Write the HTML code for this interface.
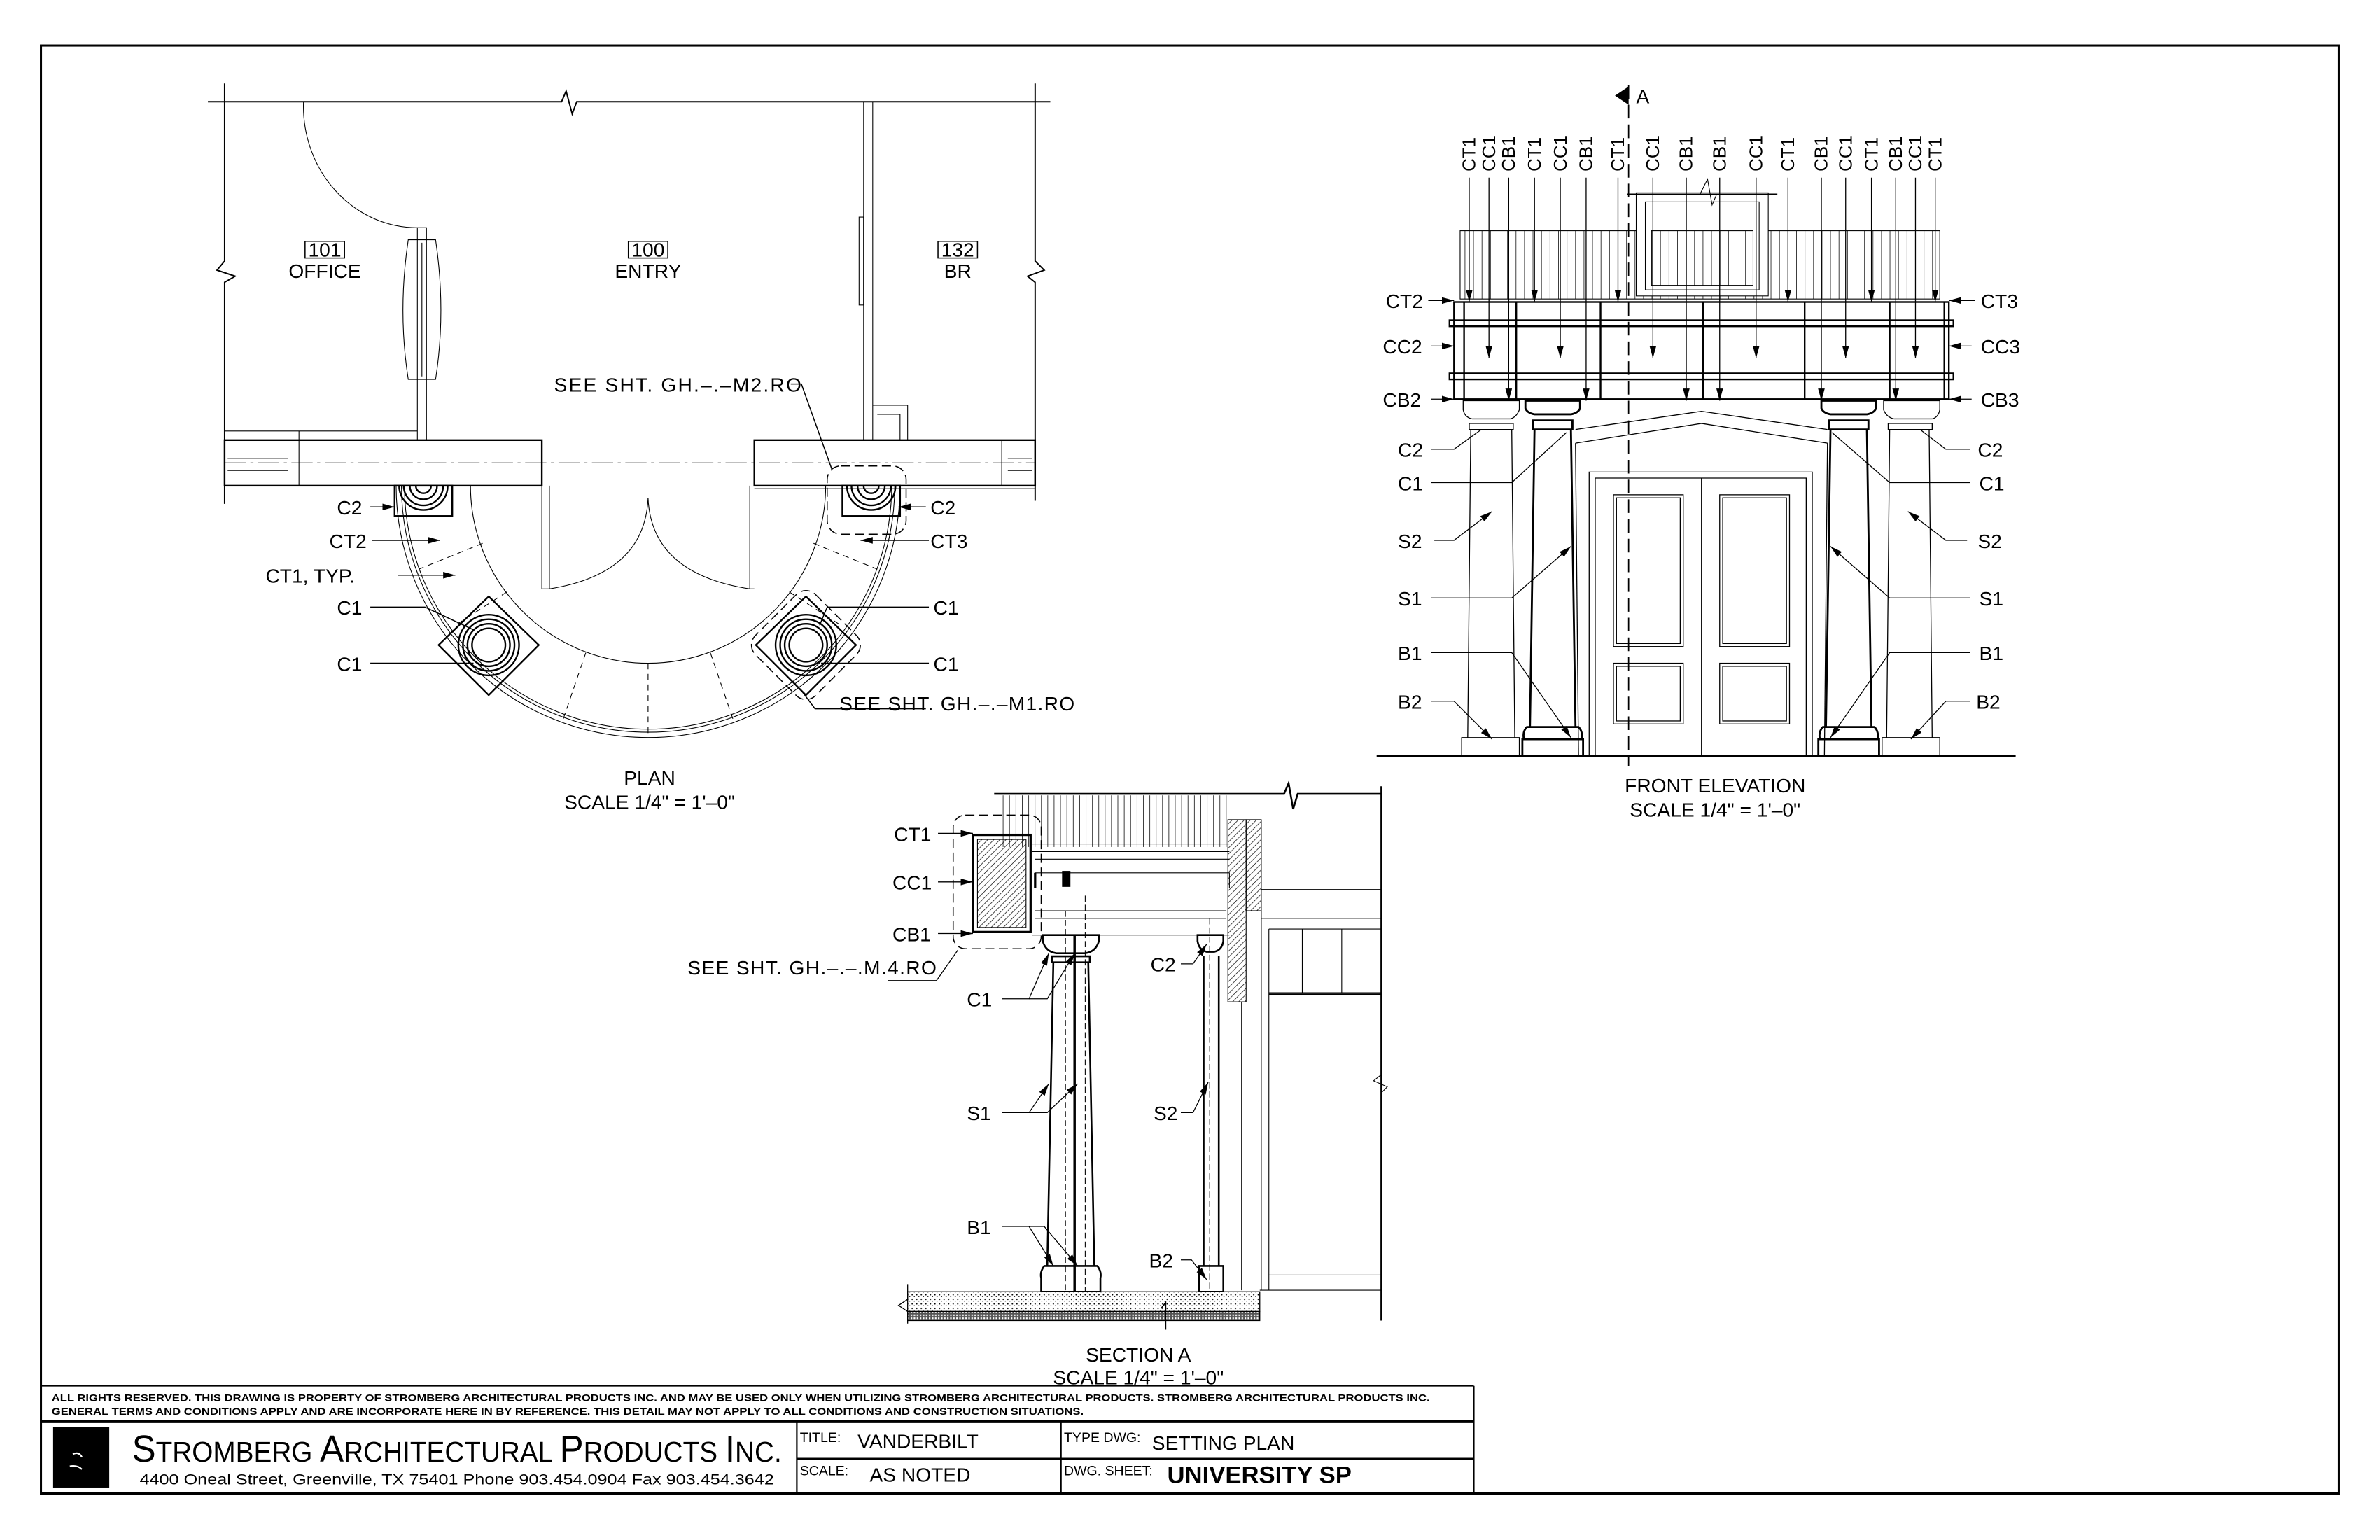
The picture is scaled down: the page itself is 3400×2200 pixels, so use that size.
<!DOCTYPE html>
<html><head><meta charset="utf-8"><style>
html,body{margin:0;padding:0;background:#fff}
svg{display:block}
text{font-family:"Liberation Sans",sans-serif;fill:#000}
</style></head><body>
<svg width="3400" height="2200" viewBox="0 0 1568 1014.6" preserveAspectRatio="none" xmlns="http://www.w3.org/2000/svg">
<defs>
<marker id="ar" markerWidth="8" markerHeight="6" refX="8" refY="3" orient="auto" markerUnits="userSpaceOnUse"><path d="M0,0.8 L8,3 L0,5.2z" fill="#000"/></marker>
<pattern id="bal" width="5.6" height="50" patternUnits="userSpaceOnUse"><line x1="2" y1="0" x2="2" y2="50" stroke="#000" stroke-width="0.35"/></pattern>
<pattern id="bal2" width="4.2" height="50" patternUnits="userSpaceOnUse"><line x1="1.5" y1="0" x2="1.5" y2="50" stroke="#000" stroke-width="0.35"/></pattern>
<pattern id="hat" width="4" height="4" patternUnits="userSpaceOnUse"><path d="M0,4 L4,0" stroke="#000" stroke-width="0.35"/></pattern>
<pattern id="dots" width="3" height="3" patternUnits="userSpaceOnUse"><rect width="3" height="3" fill="#fff"/><circle cx="1" cy="1" r="0.45" fill="#000"/><circle cx="2.4" cy="2.2" r="0.35" fill="#000"/></pattern>
<pattern id="dark" width="2" height="2" patternUnits="userSpaceOnUse"><rect width="2" height="2" fill="#555"/><rect width="1" height="1" fill="#fff"/></pattern>
</defs>
<g fill="none" stroke="#000">
<rect x="27" y="30" width="1514" height="954" stroke-width="1.4"/>
<line x1="27" y1="913" x2="971" y2="913" stroke-width="0.8"/>
<line x1="971" y1="913" x2="971" y2="984" stroke-width="1"/>
<line x1="27" y1="936.5" x2="971" y2="936.5" stroke-width="2"/>
<line x1="525" y1="937" x2="525" y2="984" stroke-width="1"/>
<line x1="699" y1="937" x2="699" y2="984" stroke-width="1"/>
<line x1="525" y1="961" x2="971" y2="961" stroke-width="1.2"/>
<line x1="27" y1="984" x2="1541" y2="984" stroke-width="2"/>

<!-- PLAN -->
<g stroke-width="0.9">
<path d="M137,67 H370 L373,60 L377,75 L380,67 H692"/>
<path d="M148,55 V172 L143,178 L155,182 L148,186 V332"/>
<path d="M682,55 V172 L688,178 L677,182 L682,186 V330"/>
</g>
<rect x="148" y="290" width="209" height="30" stroke-width="1.1"/>
<rect x="497" y="290" width="185" height="30" stroke-width="1.1"/>
<g stroke-width="0.5">
<path d="M200,67 A75,80 0 0 0 275,150"/>
<rect x="275" y="150" width="6" height="140"/>
<path d="M269,158 Q262,205 269,250 H287 Q294,205 287,158 Z"/>
<line x1="278" y1="160" x2="278" y2="248"/>
<line x1="569" y1="67" x2="569" y2="290"/><line x1="575" y1="67" x2="575" y2="290"/>
<rect x="566" y="143" width="3" height="58"/>
<path d="M575,267 H598 V290"/><path d="M578,273 H593 V290"/>
<line x1="148" y1="284" x2="275" y2="284"/>
<line x1="197" y1="284" x2="197" y2="320"/>
<line x1="660" y1="290" x2="660" y2="320"/>
<path d="M150,302 H190 M150,310 H190 M664,302 H680 M664,310 H680"/>
<line x1="148" y1="305" x2="682" y2="305" stroke-dasharray="14 3 2 3"/>
<path d="M357,320 V388 H362 V320"/>
<path d="M494,320 V388 H497"/>
<path d="M427,328 Q425,378 362,388"/>
<path d="M427,328 Q429,378 494,388"/>
<path d="M497,322 H682"/>
<path d="M261,320 A166,166 0 0 0 593,320"/>
<path d="M264.5,320 A162.5,162.5 0 0 0 589.5,320"/>
<path d="M266.5,320 A160.5,160.5 0 0 0 587.5,320"/>
<path d="M310,320 A117,117 0 0 0 544,320"/>
<g stroke-dasharray="4 3">
<path d="M427,437 V483"/><path d="M386,430 L371,474"/><path d="M468,430 L483,474"/>
<path d="M318,358 L276,375"/><path d="M536,358 L578,375"/>
<path d="M334,390 L300,412"/><path d="M520,390 L554,412"/>
</g>
</g>
<g stroke-width="1.1">
<rect x="260" y="320" width="38" height="20"/>
<path d="M266,320 A13,13 0 0 0 292,320 M270,320 A9,9 0 0 0 288,320 M263,320 A16,16 0 0 0 295,320 M274,320 A5,5 0 0 0 284,320"/>
<rect x="555" y="320" width="38" height="20"/>
<path d="M561,320 A13,13 0 0 0 587,320 M565,320 A9,9 0 0 0 583,320 M558,320 A16,16 0 0 0 590,320 M569,320 A5,5 0 0 0 579,320"/>
<path d="M322,393 L355,425 L322,458 L289,425 Z"/>
<circle cx="322" cy="425" r="11"/><circle cx="322" cy="425" r="14"/><circle cx="322" cy="425" r="17"/><circle cx="322" cy="425" r="20"/>
<path d="M531,393 L564,425 L531,458 L498,425 Z"/>
<circle cx="531" cy="425" r="11"/><circle cx="531" cy="425" r="14"/><circle cx="531" cy="425" r="17"/><circle cx="531" cy="425" r="20"/>
</g>
<g stroke-width="0.7" stroke-dasharray="6 3">
<rect x="545" y="307" width="52" height="45" rx="9"/>
<rect x="503" y="397" width="56" height="56" rx="9" transform="rotate(45 531 425)"/>
</g>
<g stroke-width="0.7">
<line x1="244" y1="334" x2="260" y2="334" marker-end="url(#ar)"/>
<line x1="245" y1="356" x2="290" y2="356" marker-end="url(#ar)"/>
<line x1="262" y1="379" x2="300" y2="379" marker-end="url(#ar)"/>
<path d="M244,400 H280 L312,415"/>
<path d="M244,437 H312"/>
<line x1="610" y1="334" x2="592" y2="334" marker-end="url(#ar)"/>
<line x1="612" y1="356" x2="567" y2="356" marker-end="url(#ar)"/>
<path d="M612,400 H545 L540,412"/>
<path d="M612,437 H541"/>
<path d="M521,253 H528 L548,309"/>
<path d="M528,455 L537,467 H610"/>
</g>

<!-- ELEVATION -->
<line x1="907" y1="498" x2="1328" y2="498" stroke-width="1.1"/>
<line x1="1073" y1="56" x2="1073" y2="505" stroke-width="0.8" stroke-dasharray="9 4"/>
<path d="M1073,57 L1064,63 L1073,69 Z" fill="#000" stroke="none"/>
<g stroke-width="0.5">
<rect x="962" y="152" width="316" height="45" fill="url(#bal)"/>
<rect x="1078" y="127" width="87" height="68" fill="#fff"/>
<rect x="1084" y="133" width="75" height="58"/>
<rect x="1088" y="152" width="67" height="36" fill="url(#bal)"/>
<line x1="1072" y1="128" x2="1171" y2="128" stroke-width="1"/>
<path d="M1120,128 L1125,118 L1128,135 L1131,128"/>
</g>
<g stroke-width="1.1">
<rect x="958" y="199" width="326" height="64"/>
<rect x="955" y="211" width="332" height="4"/>
<rect x="955" y="246" width="332" height="4"/>
<path d="M964.6,199 V263 M999,199 V263 M1054.5,199 V263 M1122,199 V263 M1189,199 V263 M1245,199 V263 M1281,199 V263"/>
</g>
<g stroke-width="0.6">
<path d="M964,264 H1001 V270 Q999,275 995,276 H970 Q965,275 964,270Z"/>
<path d="M968,279 H997 V283 H968Z"/>
<path d="M969,283 L967,486 M996,283 L998,486"/>
<path d="M963,486 H1001 V498 H963Z"/>
<path d="M1241,264 H1278 V270 Q1277,275 1273,276 H1248 Q1243,275 1241,270Z"/>
<path d="M1244,279 H1273 V283 H1244Z"/>
<path d="M1245,283 L1243,486 M1271,283 L1273,486"/>
<path d="M1240,486 H1278 V498 H1240Z"/>
</g>
<g stroke-width="1.3">
<path d="M1005,264 H1041 V269 Q1040,272 1035,273 H1011 Q1006,272 1005,269Z"/>
<path d="M1010,277 H1036 V283 H1010Z"/>
<path d="M1011,283 L1008,479 M1035,283 L1038,479"/>
<path d="M1006,479 H1040 Q1043,482 1042,487 H1004 Q1003,482 1006,479Z"/>
<rect x="1003" y="487" width="40" height="11"/>
<path d="M1200,264 H1236 V269 Q1235,272 1230,273 H1206 Q1201,272 1200,269Z"/>
<path d="M1205,277 H1231 V283 H1205Z"/>
<path d="M1206,283 L1203,479 M1230,283 L1233,479"/>
<path d="M1201,479 H1235 Q1238,482 1237,487 H1199 Q1198,482 1201,479Z"/>
<rect x="1198" y="487" width="40" height="11"/>
</g>
<g stroke-width="0.6">
<path d="M1038,283 L1121,271 L1204,283"/>
<path d="M1038,292 L1121,279 L1204,292"/>
<line x1="1038" y1="292" x2="1040" y2="498"/><line x1="1204" y1="292" x2="1202" y2="498"/>
<path d="M1047,498 V311 H1194 V498"/>
<path d="M1051,498 V315 H1190 V498"/>
<line x1="1121" y1="315" x2="1121" y2="498"/>
<rect x="1063" y="326" width="46" height="100"/><rect x="1065" y="328" width="42" height="96"/>
<rect x="1133" y="326" width="46" height="100"/><rect x="1135" y="328" width="42" height="96"/>
<rect x="1063" y="437" width="46" height="40"/><rect x="1065" y="439" width="42" height="36"/>
<rect x="1133" y="437" width="46" height="40"/><rect x="1135" y="439" width="42" height="36"/>
</g>
<g stroke-width="0.6">
<line x1="968" y1="117" x2="968" y2="199" marker-end="url(#ar)"/>
<line x1="981" y1="117" x2="981" y2="236" marker-end="url(#ar)"/>
<line x1="994" y1="117" x2="994" y2="264" marker-end="url(#ar)"/>
<line x1="1011" y1="117" x2="1011" y2="199" marker-end="url(#ar)"/>
<line x1="1028" y1="117" x2="1028" y2="236" marker-end="url(#ar)"/>
<line x1="1045" y1="117" x2="1045" y2="264" marker-end="url(#ar)"/>
<line x1="1066" y1="117" x2="1066" y2="199" marker-end="url(#ar)"/>
<line x1="1089" y1="117" x2="1089" y2="236" marker-end="url(#ar)"/>
<line x1="1111" y1="117" x2="1111" y2="264" marker-end="url(#ar)"/>
<line x1="1133" y1="117" x2="1133" y2="264" marker-end="url(#ar)"/>
<line x1="1157" y1="117" x2="1157" y2="236" marker-end="url(#ar)"/>
<line x1="1178" y1="117" x2="1178" y2="199" marker-end="url(#ar)"/>
<line x1="1200" y1="117" x2="1200" y2="264" marker-end="url(#ar)"/>
<line x1="1216" y1="117" x2="1216" y2="236" marker-end="url(#ar)"/>
<line x1="1233" y1="117" x2="1233" y2="199" marker-end="url(#ar)"/>
<line x1="1249" y1="117" x2="1249" y2="264" marker-end="url(#ar)"/>
<line x1="1262" y1="117" x2="1262" y2="236" marker-end="url(#ar)"/>
<line x1="1275" y1="117" x2="1275" y2="199" marker-end="url(#ar)"/>
<line x1="941" y1="198" x2="958" y2="198" marker-end="url(#ar)"/>
<line x1="943" y1="228" x2="958" y2="228" marker-end="url(#ar)"/>
<line x1="943" y1="263" x2="958" y2="263" marker-end="url(#ar)"/>
<path d="M943,296 H958 L976,283"/>
<path d="M943,318 H996 L1032,285"/>
<path d="M945,356 H958 L983,337" marker-end="url(#ar)"/>
<path d="M943,394 H996 L1035,360" marker-end="url(#ar)"/>
<path d="M943,430 H996 L1035,486" marker-end="url(#ar)"/>
<path d="M943,462 H958 L983,487" marker-end="url(#ar)"/>
<line x1="1301" y1="198" x2="1284" y2="198" marker-end="url(#ar)"/>
<line x1="1299" y1="228" x2="1284" y2="228" marker-end="url(#ar)"/>
<line x1="1299" y1="263" x2="1284" y2="263" marker-end="url(#ar)"/>
<path d="M1298,296 H1282 L1265,283"/>
<path d="M1298,318 H1245 L1207,285"/>
<path d="M1296,356 H1282 L1257,337" marker-end="url(#ar)"/>
<path d="M1298,394 H1245 L1206,360" marker-end="url(#ar)"/>
<path d="M1298,430 H1245 L1206,486" marker-end="url(#ar)"/>
<path d="M1298,462 H1282 L1259,487" marker-end="url(#ar)"/>
</g>

<!-- SECTION A -->
<g stroke-width="0.5">
<rect x="660" y="524" width="150" height="34" fill="url(#bal2)" stroke="none"/>
<path d="M655,523 H846 L849,516 L852,533 L855,523 H910" stroke-width="1.2"/>
<line x1="910" y1="518" x2="910" y2="870" stroke-width="1"/>
<path d="M910,708 L905,712 L914,716 L910,720" />
<rect x="641" y="550" width="38" height="64" stroke-width="1.5"/>
<rect x="644" y="553" width="32" height="58" fill="url(#hat)"/>
<path d="M680,556 H810 M680,561 H810 M682,566 H810 M682,575 H810 V585 H682 Z M682,600 H808 M682,605 H808 M680,616 H810" />
<path d="M682,575 V585" stroke-width="1.5"/>
<rect x="700" y="574" width="5" height="10" fill="#000"/>
<rect x="809" y="540" width="12" height="120" fill="url(#hat)"/>
<rect x="821" y="540" width="10" height="60" fill="url(#hat)"/>
<path d="M831,586 H910 M831,605 H910 M836,612 V654 M836,654 H910 M836,612 H910"/>
<path d="M858,612 V654 M884,612 V654"/>
<line x1="836" y1="655" x2="910" y2="655" stroke-width="1"/>
<path d="M831,600 V850 M836,654 V850 M818,660 V850"/>
<line x1="830" y1="850" x2="910" y2="850"/><line x1="836" y1="840" x2="910" y2="840"/>
</g>
<rect x="628" y="537" width="58" height="88" rx="8" stroke-width="0.7" stroke-dasharray="6 3"/>
<g stroke-width="1.2">
<path d="M687,616 H724 V620 Q722,627 715,628 H696 Q689,627 687,620Z"/>
<path d="M693,630 H718 V634 H693Z"/>
<path d="M694,634 L690,834 M717,634 L721,834"/>
<path d="M688,834 H723 Q726,838 725,842 V851 H686 V842 Q685,838 688,834Z"/>
<path d="M789,616 H806 V620 Q805,626 800,627 H795 Q790,626 789,620Z"/>
<path d="M793,630 V834 M803,630 V834"/>
<path d="M790,834 H806 V851 H790Z"/>
<line x1="708" y1="616" x2="708" y2="851" stroke-width="1.6"/>
</g>
<g stroke-width="0.5" stroke-dasharray="4 2"><line x1="702" y1="600" x2="702" y2="851"/><line x1="715" y1="590" x2="715" y2="851"/><line x1="797" y1="605" x2="797" y2="851"/></g>
<rect x="598" y="851" width="232" height="13" fill="url(#dots)" stroke-width="0.6"/>
<rect x="598" y="864" width="232" height="6" fill="url(#dark)" stroke-width="0.6"/>
<path d="M598,846 V856 L592,860 L598,864 V872" stroke-width="0.6"/>
<path d="M765,862 L768,858 L768,876" stroke-width="0.8"/>
<g stroke-width="0.6">
<line x1="618" y1="549" x2="641" y2="549" marker-end="url(#ar)"/>
<line x1="618" y1="581" x2="641" y2="581" marker-end="url(#ar)"/>
<line x1="618" y1="615" x2="641" y2="615" marker-end="url(#ar)"/>
<path d="M585,646 H617 L631,626"/>
<path d="M660,658 H678 L691,628" marker-end="url(#ar)"/>
<path d="M678,658 H690 L708,628" marker-end="url(#ar)"/>
<path d="M660,733 H678 L691,714" marker-end="url(#ar)"/>
<path d="M678,733 H690 L710,714" marker-end="url(#ar)"/>
<path d="M660,808 H678 L694,834" marker-end="url(#ar)"/>
<path d="M678,808 H688 L710,834" marker-end="url(#ar)"/>
<path d="M778,635 H786 L795,622" marker-end="url(#ar)"/>
<path d="M778,733 H786 L796,713" marker-end="url(#ar)"/>
<path d="M778,830 H785 L795,843" marker-end="url(#ar)"/>
</g>
</g>

<!-- TEXT -->
<g font-size="13">
<rect x="201" y="159" width="26" height="11" fill="none" stroke="#000" stroke-width="0.7"/>
<text x="214" y="169" text-anchor="middle">101</text>
<text x="214" y="183" text-anchor="middle">OFFICE</text>
<rect x="414" y="159" width="26" height="11" fill="none" stroke="#000" stroke-width="0.7"/>
<text x="427" y="169" text-anchor="middle">100</text>
<text x="427" y="183" text-anchor="middle">ENTRY</text>
<rect x="618" y="159" width="26" height="11" fill="none" stroke="#000" stroke-width="0.7"/>
<text x="631" y="169" text-anchor="middle">132</text>
<text x="631" y="183" text-anchor="middle">BR</text>
<text x="365" y="258" textLength="163">SEE SHT. GH.–.–M2.RO</text>
<text x="222" y="339">C2</text>
<text x="217" y="361">CT2</text>
<text x="175" y="384">CT1, TYP.</text>
<text x="222" y="405">C1</text>
<text x="222" y="442">C1</text>
<text x="613" y="339">C2</text>
<text x="613" y="361">CT3</text>
<text x="615" y="405">C1</text>
<text x="615" y="442">C1</text>
<text x="553" y="468" textLength="155">SEE SHT. GH.–.–M1.RO</text>
<text x="428" y="517" text-anchor="middle">PLAN</text>
<text x="428" y="533" text-anchor="middle">SCALE 1/4" = 1'–0"</text>
<text x="1078" y="68">A</text>
<g font-size="12">
<text transform="translate(972,113) rotate(-90)">CT1</text>
<text transform="translate(985,113) rotate(-90)">CC1</text>
<text transform="translate(998,113) rotate(-90)">CB1</text>
<text transform="translate(1015,113) rotate(-90)">CT1</text>
<text transform="translate(1032,113) rotate(-90)">CC1</text>
<text transform="translate(1049,113) rotate(-90)">CB1</text>
<text transform="translate(1070,113) rotate(-90)">CT1</text>
<text transform="translate(1093,113) rotate(-90)">CC1</text>
<text transform="translate(1115,113) rotate(-90)">CB1</text>
<text transform="translate(1137,113) rotate(-90)">CB1</text>
<text transform="translate(1161,113) rotate(-90)">CC1</text>
<text transform="translate(1182,113) rotate(-90)">CT1</text>
<text transform="translate(1204,113) rotate(-90)">CB1</text>
<text transform="translate(1220,113) rotate(-90)">CC1</text>
<text transform="translate(1237,113) rotate(-90)">CT1</text>
<text transform="translate(1253,113) rotate(-90)">CB1</text>
<text transform="translate(1266,113) rotate(-90)">CC1</text>
<text transform="translate(1279,113) rotate(-90)">CT1</text>
</g>
<text x="913" y="203">CT2</text>
<text x="911" y="233">CC2</text>
<text x="911" y="268">CB2</text>
<text x="921" y="301">C2</text>
<text x="921" y="323">C1</text>
<text x="921" y="361">S2</text>
<text x="921" y="399">S1</text>
<text x="921" y="435">B1</text>
<text x="921" y="467">B2</text>
<text x="1305" y="203">CT3</text>
<text x="1305" y="233">CC3</text>
<text x="1305" y="268">CB3</text>
<text x="1303" y="301">C2</text>
<text x="1304" y="323">C1</text>
<text x="1303" y="361">S2</text>
<text x="1304" y="399">S1</text>
<text x="1304" y="435">B1</text>
<text x="1302" y="467">B2</text>
<text x="1130" y="522" text-anchor="middle">FRONT  ELEVATION</text>
<text x="1130" y="538" text-anchor="middle">SCALE 1/4" = 1'–0"</text>
<text x="589" y="554">CT1</text>
<text x="588" y="586">CC1</text>
<text x="588" y="620">CB1</text>
<text x="453" y="642" textLength="164">SEE SHT. GH.–.–.M.4.RO</text>
<text x="637" y="663">C1</text>
<text x="637" y="738">S1</text>
<text x="637" y="813">B1</text>
<text x="758" y="640">C2</text>
<text x="760" y="738">S2</text>
<text x="757" y="835">B2</text>
<text x="750" y="897" text-anchor="middle">SECTION  A</text>
<text x="750" y="912" text-anchor="middle">SCALE 1/4" = 1'–0"</text>
</g>
<g font-weight="bold" font-size="6.2">
<text x="34" y="923" textLength="908" lengthAdjust="spacingAndGlyphs">ALL RIGHTS RESERVED. THIS DRAWING IS PROPERTY OF STROMBERG ARCHITECTURAL PRODUCTS INC. AND MAY BE USED ONLY WHEN UTILIZING STROMBERG ARCHITECTURAL PRODUCTS.  STROMBERG ARCHITECTURAL PRODUCTS INC.</text>
<text x="34" y="932" textLength="680" lengthAdjust="spacingAndGlyphs">GENERAL TERMS AND CONDITIONS APPLY AND ARE INCORPORATE HERE IN BY REFERENCE.  THIS DETAIL MAY NOT APPLY TO ALL CONDITIONS AND CONSTRUCTION SITUATIONS.</text>
</g>
<rect x="35" y="940" width="37" height="40" fill="#000"/>
<path d="M48,958 q4,-2 6,2 M46,966 q5,-1 8,2" stroke="#fff" stroke-width="1" fill="none"/>
<text x="87" y="963" font-family="Liberation Serif,serif" font-size="25" textLength="428" lengthAdjust="spacingAndGlyphs">S<tspan font-size="19">TROMBERG </tspan>A<tspan font-size="19">RCHITECTURAL </tspan>P<tspan font-size="19">RODUCTS </tspan>I<tspan font-size="19">NC.</tspan></text>
<text x="92" y="978" font-size="10" textLength="418" lengthAdjust="spacingAndGlyphs">4400 Oneal Street, Greenville, TX  75401        Phone 903.454.0904   Fax 903.454.3642</text>
<text x="527" y="950" font-size="9">TITLE:</text>
<text x="565" y="954" font-size="13">VANDERBILT</text>
<text x="527" y="972" font-size="9">SCALE:</text>
<text x="573" y="976" font-size="13">AS NOTED</text>
<text x="701" y="950" font-size="9">TYPE DWG:</text>
<text x="759" y="955" font-size="13">SETTING PLAN</text>
<text x="701" y="972" font-size="9">DWG. SHEET:</text>
<text x="769" y="977" font-size="16" font-weight="bold">UNIVERSITY SP</text>
</svg>
</body></html>
